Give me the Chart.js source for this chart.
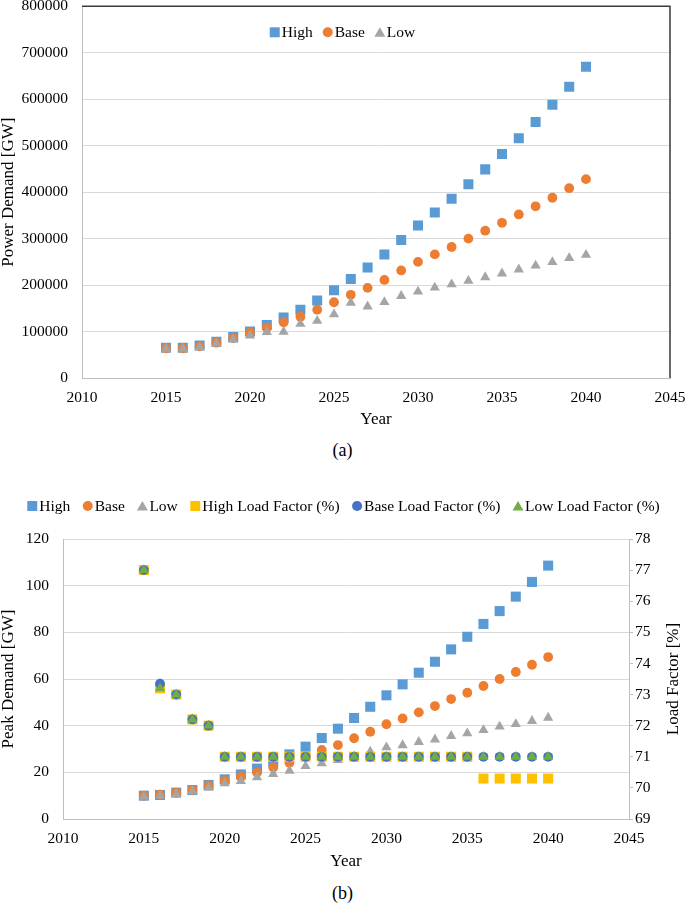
<!DOCTYPE html>
<html>
<head>
<meta charset="utf-8">
<script src="https://cdn.jsdelivr.net/npm/chart.js@4.4.1/dist/chart.umd.min.js"></script>
<style>
  html, body { margin: 0; padding: 0; background: #fff; width: 685px; height: 905px; overflow: hidden; position: relative; }
  canvas { position: absolute; left: 0; }
  #cA { top: -17px; }
  #cB { top: 460px; }
  .cap { position: absolute; left: 0; width: 685px; text-align: center; font-family: "Liberation Serif", "Times New Roman", serif; font-size: 18px; color: #000; line-height: 20px; }
</style>
</head>
<body>
<canvas id="cA" width="688" height="457"></canvas>
<div class="cap" style="top:440px;">(a)</div>
<canvas id="cB" width="685" height="420"></canvas>
<div class="cap" style="top:883px;">(b)</div>
<script>
// ---- data ----
const years = [2015, 2016, 2017, 2018, 2019, 2020, 2021, 2022, 2023, 2024, 2025, 2026, 2027,
               2028, 2029, 2030, 2031, 2032, 2033, 2034, 2035, 2036, 2037, 2038, 2039, 2040];

// (a) Power demand [GW]
const powerHigh = [65000, 65000, 70000, 78000, 88000, 100000, 114000, 130000, 147000, 167000, 189000, 213000, 238000,
                   266000, 297000, 328000, 356000, 386000, 417000, 449000, 482000, 516000, 551000, 588000, 627000, 670000];
const powerBase = [64000, 64000, 68000, 76000, 86000, 98000, 108000, 120000, 132000, 147000, 163000, 179000, 194000,
                   211000, 231500, 250000, 266000, 282000, 300000, 317000, 334000, 352000, 369500, 388000, 408500, 428000];
const powerLow  = [63000, 63000, 66000, 74000, 83000, 91500, 99000, 99500, 116500, 123000, 137000, 162000, 154000,
                   163500, 176500, 186000, 194500, 201500, 209000, 217000, 225000, 233500, 242000, 249500, 258000, 265000];

// (b) Peak demand [GW]
const peakHigh = [10, 10.3, 11.3, 12.4, 14.6, 17, 19.1, 21.6, 24.4, 27.7, 31, 34.7, 38.7,
                  43.3, 48.1, 53, 57.7, 62.7, 67.4, 72.7, 78.1, 83.6, 89.1, 95.3, 101.6, 108.6];
const peakBase = [10, 10.4, 11.3, 12.4, 14.4, 16.4, 18.1, 19.9, 22.1, 24.1, 26.7, 29.6, 31.7,
                  34.6, 37.4, 40.6, 43.1, 45.7, 48.4, 51.4, 54.1, 57, 60, 63, 66.1, 69.4];
const peakLow  = [9.6, 9.9, 10.7, 11.9, 13.4, 15.3, 16.3, 17.9, 19.3, 20.7, 22.7, 23.9, 25.3,
                  26.7, 28.9, 30.7, 31.6, 33, 34.1, 35.6, 36.7, 38.1, 39.6, 40.7, 42, 43.4];

// (b) Load factor [%]
const lfHigh = [77, 73.2, 73, 72.2, 72, 71, 71, 71, 71, 71, 71, 71, 71,
                71, 71, 71, 71, 71, 71, 71, 71, 70.3, 70.3, 70.3, 70.3, 70.3];
const lfBase = [77, 73.35, 73, 72.2, 72, 71, 71, 71, 71, 71, 71, 71, 71,
                71, 71, 71, 71, 71, 71, 71, 71, 71, 71, 71, 71, 71];
const lfLow  = [77, 73.2, 73, 72.2, 72, 71, 71, 71, 71, 71, 71, 71, 71,
                71, 71, 71, 71, 71, 71, 71, 71, 71, 71, 71, 71, 71];

const xTicks = { min: 2010, max: 2045, step: 5 };
const yTicksA = { min: 0, max: 800000, step: 100000 };
const yTicksB = { min: 0, max: 120, step: 20 };
const yTicksLF = { min: 69, max: 78, step: 1 };

// ---- styling ----
const FONT = '"Liberation Serif", "Times New Roman", serif';
const C = { high: '#5B9BD5', base: '#ED7D31', low: '#A5A5A5', hlf: '#FFC000', blf: '#4472C4', llf: '#70AD47' };
const STYLE = {
  rect: { pointStyle: 'rect', pointRadius: 7.1 },
  circle: { pointStyle: 'circle', pointRadius: 4.9 },
  triangle: { pointStyle: 'triangle', pointRadius: 5.9 }
};

function pts(vals) { return years.map((yr, i) => ({ x: yr, y: vals[i] })); }
function ds(label, vals, color, shape, order, axis) {
  const s = STYLE[shape];
  const d = {
    label, data: pts(vals), backgroundColor: color, borderColor: color, borderWidth: 0,
    pointStyle: s.pointStyle, pointRadius: s.pointRadius, pointHoverRadius: s.pointRadius,
    pointBorderWidth: 0, showLine: false, order
  };
  if (axis) d.yAxisID = axis;
  return d;
}

// Legend drawn inside canvas using the datasets' own labels / colours / styles
const markerLegend = {
  id: 'markerLegend',
  afterDraw(chart, args, opts) {
    const ctx = chart.ctx;
    const items = chart.data.datasets.map(d => ({ label: d.label, color: d.backgroundColor, style: d.pointStyle }));
    ctx.save();
    ctx.font = opts.fontSize + 'px ' + FONT;
    const mk = opts.marker, gap = opts.gap, sep = opts.sep;
    let total = 0;
    items.forEach((it, i) => { it.w = ctx.measureText(it.label).width; total += mk + gap + it.w + (i ? sep : 0); });
    let x = opts.centerX - total / 2;
    const y = chart.chartArea.top + opts.offsetY;
    items.forEach(it => {
      ctx.fillStyle = it.color;
      ctx.beginPath();
      if (it.style === 'rect') {
        ctx.rect(x, y - mk / 2, mk, mk);
      } else if (it.style === 'circle') {
        ctx.arc(x + mk / 2, y, mk / 2, 0, Math.PI * 2);
      } else {
        ctx.moveTo(x + mk / 2, y - mk / 2);
        ctx.lineTo(x + mk + 0.5, y + mk / 2 - 0.5);
        ctx.lineTo(x - 0.5, y + mk / 2 - 0.5);
        ctx.closePath();
      }
      ctx.fill();
      ctx.fillStyle = '#000';
      ctx.textBaseline = 'middle';
      ctx.textAlign = 'left';
      ctx.fillText(it.label, x + mk + gap, y + 1);
      x += mk + gap + it.w + sep;
    });
    ctx.restore();
  }
};

const frameBorder = {
  id: 'frameBorder',
  beforeDatasetsDraw(chart, args, opts) {
    if (!opts || !opts.enabled) return;
    const { left, right, top, bottom } = chart.chartArea;
    const ctx = chart.ctx;
    ctx.save();
    ctx.strokeStyle = opts.color;
    ctx.lineWidth = opts.width;
    ctx.beginPath();
    ctx.moveTo(left, top);
    ctx.lineTo(right, top);
    ctx.lineTo(right, bottom);
    ctx.stroke();
    ctx.restore();
  }
};

const rightTitle = {
  id: 'rightTitle',
  afterDraw(chart, args, opts) {
    if (!opts || !opts.text) return;
    const ctx = chart.ctx;
    const { top, bottom } = chart.chartArea;
    ctx.save();
    ctx.translate(opts.x, (top + bottom) / 2);
    ctx.rotate(-Math.PI / 2);
    ctx.font = opts.fontSize + 'px ' + FONT;
    ctx.fillStyle = '#000';
    ctx.textAlign = 'center';
    ctx.textBaseline = 'middle';
    ctx.fillText(opts.text, 0, 0);
    ctx.restore();
  }
};

const tickFont = { family: FONT, size: 15.5 };
const titleFont = { family: FONT, size: 17 };
const axisGray = '#BFBFBF';
const gridGray = '#D9D9D9';

function xScale(heightPx, titlePadBottom) {
  return {
    type: 'linear', min: xTicks.min, max: xTicks.max,
    ticks: { stepSize: xTicks.step, padding: 2.5, color: '#000', font: tickFont, callback: v => String(v) },
    grid: { display: false },
    border: { color: axisGray, width: 1 },
    title: { display: true, text: 'Year', color: '#000', font: titleFont, padding: { top: 0, bottom: titlePadBottom } },
    afterFit(s) { s.height = heightPx; }
  };
}

// ---- chart (a) ----
new Chart(document.getElementById('cA'), {
  type: 'scatter',
  data: {
    datasets: [
      ds('High', powerHigh, C.high, 'rect', 3),
      ds('Base', powerBase, C.base, 'circle', 2),
      ds('Low', powerLow, C.low, 'triangle', 1)
    ]
  },
  options: {
    responsive: false, animation: false, events: [],
    layout: { padding: { top: 23, left: 0, right: 0, bottom: 0 } },
    plugins: {
      legend: { display: false }, tooltip: { enabled: false },
      markerLegend: { centerX: 342.5, offsetY: 26, marker: 10, gap: 2, sep: 10, fontSize: 15.5 },
      frameBorder: { enabled: true, color: '#3A3A3A', width: 1.5 }
    },
    scales: {
      x: xScale(62, 10),
      y: {
        min: yTicksA.min, max: yTicksA.max,
        ticks: { stepSize: yTicksA.step, padding: 14, color: '#000', font: tickFont, callback: v => String(v) },
        grid: { color: gridGray, drawTicks: false },
        border: { color: axisGray, width: 1 },
        title: { display: true, text: 'Power Demand [GW]', color: '#000', font: { family: FONT, size: 17, lineHeight: 1 }, padding: { top: 0, bottom: 0 } },
        afterFit(s) { s.width = 82; }
      }
    }
  },
  plugins: [markerLegend, frameBorder]
});

// ---- chart (b) ----
new Chart(document.getElementById('cB'), {
  type: 'scatter',
  data: {
    datasets: [
      ds('High', peakHigh, C.high, 'rect', 6),
      ds('Base', peakBase, C.base, 'circle', 5),
      ds('Low', peakLow, C.low, 'triangle', 4),
      ds('High Load Factor (%)', lfHigh, C.hlf, 'rect', 3, 'y1'),
      ds('Base Load Factor (%)', lfBase, C.blf, 'circle', 2, 'y1'),
      ds('Low Load Factor (%)', lfLow, C.llf, 'triangle', 1, 'y1')
    ]
  },
  options: {
    responsive: false, animation: false, events: [],
    layout: { padding: { top: 79, left: 0, right: 0, bottom: 0 } },
    plugins: {
      legend: { display: false }, tooltip: { enabled: false },
      markerLegend: { centerX: 343.5, offsetY: -33, marker: 10, gap: 2, sep: 12.5, fontSize: 15.5 },
      rightTitle: { text: 'Load Factor [%]', x: 674, fontSize: 17 }
    },
    scales: {
      x: xScale(61, 8),
      y: {
        position: 'left',
        min: yTicksB.min, max: yTicksB.max,
        ticks: { stepSize: yTicksB.step, padding: 14, color: '#000', font: tickFont },
        grid: { color: gridGray, drawTicks: false },
        border: { color: axisGray, width: 1 },
        title: { display: true, text: 'Peak Demand [GW]', color: '#000', font: { family: FONT, size: 17, lineHeight: 1 }, padding: { top: 0, bottom: 0 } },
        afterFit(s) { s.width = 63; }
      },
      y1: {
        position: 'right',
        min: yTicksLF.min, max: yTicksLF.max,
        ticks: { stepSize: yTicksLF.step, padding: 2, color: '#000', font: tickFont },
        grid: { drawOnChartArea: false, drawTicks: true, tickLength: 4, color: axisGray },
        border: { color: axisGray, width: 1 },
        afterFit(s) { s.width = 56; }
      }
    }
  },
  plugins: [markerLegend, rightTitle]
});
</script>
</body>
</html>
